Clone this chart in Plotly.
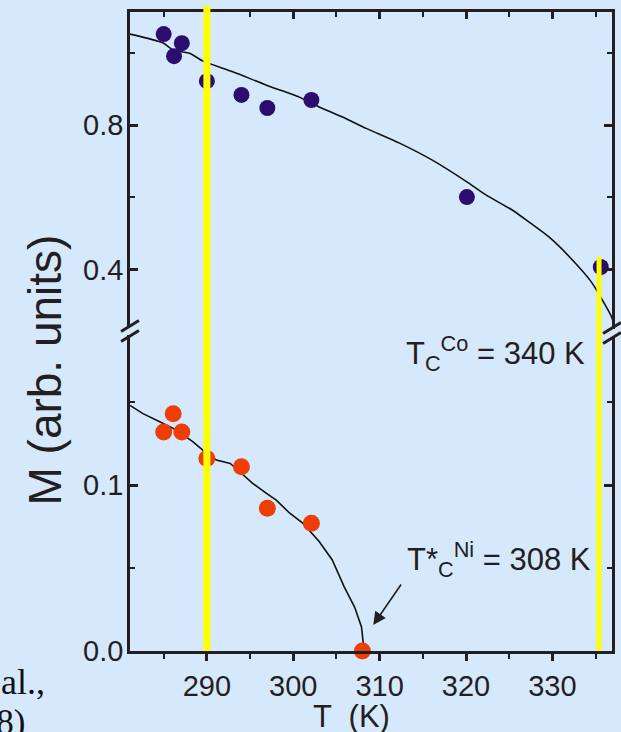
import plotly.graph_objects as go

# ---- data -------------------------------------------------------------
# Co sublattice magnetization (upper panel)
co_T = [285.0, 286.2, 287.1, 290.0, 294.0, 297.0, 302.1, 320.1, 335.6]
co_M = [1.051, 0.990, 1.026, 0.921, 0.883, 0.847, 0.869, 0.601, 0.408]

co_fit_T = [281.1, 284.9, 286.1, 288.0, 289.5, 293.0, 296.9, 299.6, 300.7, 303.0,
            305.9, 308.5, 312.3, 316.1, 320.1, 322.3, 325.3, 327.3, 329.6, 332.1,
            334.5, 336.8, 337.2]
co_fit_M = [1.051, 1.027, 1.007, 0.998, 0.977, 0.947, 0.910, 0.887, 0.877, 0.850,
            0.820, 0.790, 0.750, 0.703, 0.643, 0.607, 0.566, 0.532, 0.491, 0.433,
            0.367, 0.273, 0.245]

# Ni magnetization (lower panel)
ni_T = [285.0, 286.1, 287.1, 290.0, 294.0, 297.0, 302.1, 308.0]
ni_M = [0.132, 0.143, 0.132, 0.116, 0.111, 0.086, 0.077, 0.0]

ni_fit_T = [281.1, 282.6, 284.6, 286.5, 288.4, 290.0, 291.1, 292.7, 293.8, 295.3,
            296.9, 298.0, 299.6, 301.1, 303.0, 304.5, 305.9, 307.1, 307.9, 308.2]
ni_fit_M = [0.148, 0.143, 0.138, 0.133, 0.126, 0.119, 0.115, 0.113, 0.108, 0.101,
            0.095, 0.091, 0.083, 0.077, 0.066, 0.055, 0.0386, 0.0265, 0.0145, 0.0]

# marker temperatures (vertical guides)
guide_T = [290.0, 335.4]

# axes
x_range = [281.1, 336.9]
x_ticks = [290, 300, 310, 320, 330]
x_minor = [285, 295, 305, 315, 325, 335]
lo_range = [0.0, 0.1925]
lo_ticks = [0.0, 0.1]
lo_labels = ["0.0", "0.1"]
lo_minor = [0.05, 0.15]
hi_range = [0.230, 1.112]
hi_ticks = [0.4, 0.8]
hi_labels = ["0.4", "0.8"]
hi_minor = [0.6, 1.0]

# ---- style ------------------------------------------------------------
BG = "#d6e9fc"
INK = "#231f20"
PURPLE = "#2c0c6e"
ORANGE = "#ee3d06"
YELLOW = "#ffff00"
SANS = "Liberation Sans, Arial, sans-serif"
SERIF = "Liberation Serif, Times New Roman, serif"

W, H = 621, 732
ML, MR, MT, MB = 130, 6, 12, 81
PW, PH = W - ML - MR, H - MT - MB


def px(x):
    return (x - ML) / PW


def py(y):
    return (H - MB - y) / PH


fig = go.Figure()

fig.add_trace(go.Scatter(x=co_fit_T, y=co_fit_M, mode="lines",
                         line=dict(color="#111111", width=1.6, shape="spline",
                                   smoothing=0.6),
                         xaxis="x2", yaxis="y2", hoverinfo="skip"))
fig.add_trace(go.Scatter(x=co_T, y=co_M, mode="markers",
                         marker=dict(color=PURPLE, size=16, line=dict(width=0)),
                         xaxis="x2", yaxis="y2", cliponaxis=False))
fig.add_trace(go.Scatter(x=ni_fit_T, y=ni_fit_M, mode="lines",
                         line=dict(color="#111111", width=1.6),
                         xaxis="x", yaxis="y", hoverinfo="skip"))
fig.add_trace(go.Scatter(x=ni_T, y=ni_M, mode="markers",
                         marker=dict(color=ORANGE, size=17, line=dict(width=0)),
                         xaxis="x", yaxis="y", cliponaxis=False))

tickfont = dict(family=SANS, size=29, color=INK)
# y tick labels are placed as annotations (closer to the axis than plotly allows)
common_y = dict(showline=True, linecolor=INK, linewidth=3, mirror="ticks",
                ticks="inside", ticklen=8, tickwidth=2.5, tickcolor=INK,
                showgrid=False, zeroline=False, showticklabels=False)

fig.update_layout(
    width=W, height=H,
    margin=dict(l=ML, r=MR, t=MT, b=MB),
    paper_bgcolor=BG, plot_bgcolor=BG,
    showlegend=False,
    xaxis=dict(range=x_range, anchor="y", domain=[0, 1],
               showline=True, linecolor=INK, linewidth=3,
               ticks="outside", ticklen=7, tickwidth=2.5, tickcolor=INK,
               tickvals=x_ticks, ticktext=[str(v) for v in x_ticks],
               minor=dict(tickvals=x_minor, ticks="outside", ticklen=5,
                          tickwidth=2, tickcolor=INK),
               showgrid=False, zeroline=False, tickfont=tickfont),
    xaxis2=dict(range=x_range, matches="x", anchor="y2", side="top",
                showline=True, linecolor=INK, linewidth=3,
                ticks="inside", ticklen=7, tickwidth=2.5, tickcolor=INK,
                tickvals=x_ticks, showticklabels=False,
                minor=dict(tickvals=x_minor, ticks="inside", ticklen=5,
                           tickwidth=2, tickcolor=INK),
                showgrid=False, zeroline=False),
    yaxis=dict(range=lo_range, domain=[0, 0.5], anchor="x",
               tickvals=lo_ticks,
               minor=dict(tickvals=lo_minor, ticks="inside", ticklen=5,
                          tickwidth=2, tickcolor=INK),
               **common_y),
    yaxis2=dict(range=hi_range, domain=[0.5, 1], anchor="x2",
                tickvals=hi_ticks,
                minor=dict(tickvals=hi_minor, ticks="inside", ticklen=5,
                           tickwidth=2, tickcolor=INK),
                **common_y),
)

shapes = []
# vertical guides at the two transition temperatures
shapes.append(dict(type="line", xref="x", yref="paper",
                   x0=guide_T[0], x1=guide_T[0], y0=0, y1=py(6),
                   line=dict(color=YELLOW, width=7), layer="above"))
shapes.append(dict(type="line", xref="x", yref="paper",
                   x0=guide_T[1], x1=guide_T[1], y0=0, y1=py(257),
                   line=dict(color=YELLOW, width=5), layer="above"))

# axis break marks on both vertical axes
for ax_x, yc in [(130, 331), (615, 333)]:
    shapes.append(dict(type="rect", xref="paper", yref="paper",
                       x0=px(ax_x - 3), x1=px(ax_x + 3),
                       y0=py(yc + 4), y1=py(yc - 4),
                       fillcolor=BG, line=dict(width=0), layer="above"))
    for dy in (-5, 5):
        shapes.append(dict(type="line", xref="paper", yref="paper",
                           x0=px(ax_x - 9), y0=py(yc + dy + 5.5),
                           x1=px(ax_x + 9), y1=py(yc + dy - 5.5),
                           line=dict(color=INK, width=3), layer="above"))
fig.update_layout(shapes=shapes)

ann = []
for yref, vals, labels in [("y", lo_ticks, lo_labels), ("y2", hi_ticks, hi_labels)]:
    for v, lab in zip(vals, labels):
        ann.append(dict(text=lab, xref="paper", yref=yref, x=px(125), y=v,
                        showarrow=False, xanchor="right", yanchor="middle",
                        font=tickfont))
ann.append(dict(text="M (arb. units)", xref="paper", yref="paper",
                x=px(44), y=py(370), showarrow=False, textangle=-90,
                xanchor="center", yanchor="middle",
                font=dict(family=SANS, size=46, color=INK)))
ann.append(dict(text="T  (K)", xref="paper", yref="paper",
                x=px(353), y=py(716), showarrow=False,
                xanchor="center", yanchor="middle",
                font=dict(family=SANS, size=31, color=INK)))
ann.append(dict(text="T<sub>C</sub><sup>Co</sup> = 340 K", xref="paper", yref="paper",
                x=px(590), y=py(354), showarrow=False,
                xanchor="right", yanchor="middle",
                font=dict(family=SANS, size=31, color=INK)))
ann.append(dict(text="T*<sub>C</sub><sup>Ni</sup> = 308 K", xref="paper", yref="paper",
                x=px(596), y=py(559), showarrow=False,
                xanchor="right", yanchor="middle",
                font=dict(family=SANS, size=31, color=INK)))
ann.append(dict(text="", x=309.26, y=0.0157, xref="x", yref="y",
                ax=312.6, ay=0.041, axref="x", ayref="y",
                showarrow=True, arrowhead=2, arrowsize=1.6, arrowwidth=1.6,
                arrowcolor=INK))
ann.append(dict(text="al.,", xref="paper", yref="paper",
                x=px(-2), y=py(682), showarrow=False,
                xanchor="left", yanchor="middle",
                font=dict(family=SERIF, size=36, color="#111111")))
ann.append(dict(text="(2008)", xref="paper", yref="paper",
                x=px(26), y=py(722), showarrow=False,
                xanchor="right", yanchor="middle",
                font=dict(family=SERIF, size=35, color="#111111")))
fig.update_layout(annotations=ann)

fig.write_html("out.html")
